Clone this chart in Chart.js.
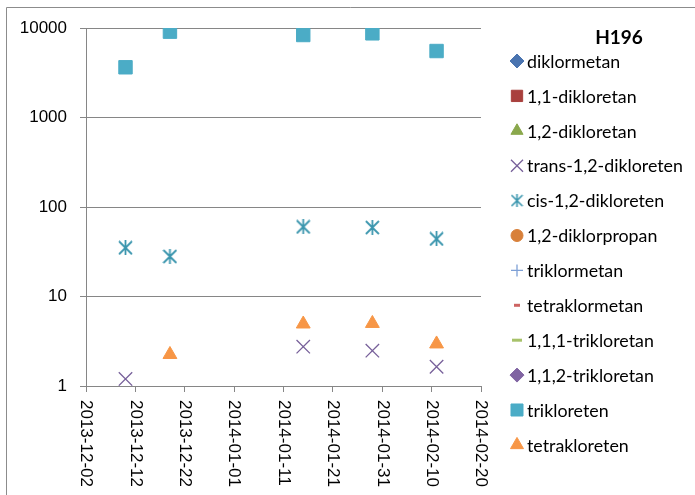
<!DOCTYPE html>
<html>
<head>
<meta charset="utf-8">
<script src="https://cdn.jsdelivr.net/npm/chart.js@4.4.0/dist/chart.umd.min.js"></script>
<style>
  html, body { margin: 0; padding: 0; background: #fff; }
  #wrap { position: relative; width: 695px; height: 495px; }
</style>
</head>
<body>
<div id="wrap"><canvas id="chart" width="695" height="495"></canvas></div>
<script>
// Sample dates for well H196
const startDate = '2013-12-02';
const dates = ['2013-12-10', '2013-12-19', '2014-01-15', '2014-01-29', '2014-02-11'];
const xTickLabels = ['2013-12-02', '2013-12-12', '2013-12-22', '2014-01-01', '2014-01-11',
                     '2014-01-21', '2014-01-31', '2014-02-10', '2014-02-20'];
const yTicks = [1, 10, 100, 1000, 10000];

// Concentrations per compound (null = not detected)
const diklormetan = [null, null, null, null, null];
const dikloretan11 = [null, null, null, null, null];
const dikloretan12 = [null, null, null, null, null];
const transDikloreten = [1.2, null, 2.75, 2.48, 1.64];
const cisDikloreten = [35, 28, 60, 59, 44];
const diklorpropan = [null, null, null, null, null];
const triklormetan = [null, null, null, null, null];
const tetraklormetan = [null, null, null, null, null];
const trikloretan111 = [null, null, null, null, null];
const trikloretan112 = [null, null, null, null, null];
const trikloreten = [3640, 9100, 8350, 8720, 5530];
const tetrakloreten = [null, 2.25, 4.93, 5.0, 2.95];

const labels = ['diklormetan', '1,1-dikloretan', '1,2-dikloretan', 'trans-1,2-dikloreten',
                'cis-1,2-dikloreten', '1,2-diklorpropan', 'triklormetan', 'tetraklormetan',
                '1,1,1-trikloretan', '1,1,2-trikloretan', 'trikloreten', 'tetrakloreten'];
const series = [diklormetan, dikloretan11, dikloretan12, transDikloreten, cisDikloreten,
                diklorpropan, triklormetan, tetraklormetan, trikloretan111, trikloretan112,
                trikloreten, tetrakloreten];

function dayNum(s) {
    return Math.round((Date.parse(s) - Date.parse(startDate)) / 86400000);
}

// asterisk marker (vertical bar + X) like the spreadsheet one
function makeStar(size, color, lw) {
    const c = document.createElement('canvas');
    c.width = size; c.height = size;
    const g = c.getContext('2d');
    g.strokeStyle = color;
    g.lineWidth = lw;
    g.beginPath();
    g.moveTo(size / 2, 0); g.lineTo(size / 2, size);
    g.moveTo(1, 1); g.lineTo(size - 1, size - 1);
    g.moveTo(size - 1, 1); g.lineTo(1, size - 1);
    g.stroke();
    return c;
}

// marker look per compound: style, colour, radius in plot and in legend, line width
const markers = [
    { style: 'rectRot', color: '#4A74B0', r: 8, lr: 7, bw: 1 },
    { style: 'rect', color: '#A9403D', r: 9, lr: 8, bw: 1 },
    { style: 'triangle', color: '#8AA84C', r: 8, lr: 7, bw: 1 },
    { style: 'crossRot', color: '#77609A', r: 9.5, lr: 8.5, bw: 1.3 },
    { style: makeStar(15, '#3B96AE', 1.8), legendStyle: makeStar(13, '#3B96AE', 1.6), color: '#3B96AE', r: 7, lr: 6, bw: 1 },
    { style: 'circle', color: '#D8803A', r: 7, lr: 6, bw: 1 },
    { style: 'cross', color: '#7EA0D6', r: 7, lr: 6, bw: 1.3 },
    { style: 'line', color: '#CD6462', r: 3, lr: 3, bw: 3 },
    { style: 'line', color: '#A7C26A', r: 5, lr: 5, bw: 3 },
    { style: 'rectRot', color: '#8064A2', r: 8, lr: 7, bw: 1 },
    { style: 'rect', color: '#4BACC6', r: 9.5, lr: 8.5, bw: 1 },
    { style: 'triangle', color: '#F79646', r: 8, lr: 7.5, bw: 1 }
];

const datasets = series.map((vals, i) => ({
    label: labels[i],
    data: vals.map((v, j) => ({ x: dayNum(dates[j]), y: v })).filter(p => p.y !== null),
    pointStyle: markers[i].style,
    pointRadius: markers[i].r,
    backgroundColor: markers[i].color,
    borderColor: markers[i].color,
    borderWidth: markers[i].bw,
    showLine: false
}));

const gridColor = '#868686';

// outer frame of the chart object (only top and left edges are visible)
const framePlugin = {
    id: 'frame',
    beforeDraw(chart) {
        const ctx = chart.ctx;
        ctx.save();
        ctx.strokeStyle = '#8C8C8C';
        ctx.lineWidth = 1;
        ctx.beginPath();
        ctx.moveTo(6.5, 495);
        ctx.lineTo(6.5, 7.5);
        ctx.lineTo(695, 7.5);
        ctx.stroke();
        ctx.restore();
    }
};

// date labels rotated to read downward
const xLabelPlugin = {
    id: 'xLabels',
    afterDraw(chart) {
        const scale = chart.scales.x;
        const ctx = chart.ctx;
        ctx.save();
        ctx.font = '17px "Liberation Sans", Arial, sans-serif';
        ctx.fillStyle = '#000';
        ctx.textAlign = 'left';
        ctx.textBaseline = 'middle';
        xTickLabels.forEach(label => {
            const x = scale.getPixelForValue(dayNum(label));
            ctx.save();
            ctx.translate(x, chart.chartArea.bottom + 14);
            ctx.rotate(Math.PI / 2);
            ctx.fillText(label, 0, 0);
            ctx.restore();
        });
        ctx.restore();
    }
};

// legend on the right with the well name as title
const legendPlugin = {
    id: 'sideLegend',
    afterDraw(chart) {
        const ctx = chart.ctx;
        ctx.save();
        ctx.fillStyle = '#000';
        ctx.font = 'bold 19px Lato, sans-serif';
        ctx.textAlign = 'center';
        ctx.textBaseline = 'middle';
        ctx.fillText('H196', 619, 38);

        // size the legend font to the reference text width
        ctx.font = '16px Lato, sans-serif';
        const w = ctx.measureText('trans-1,2-dikloreten').width;
        const size = 16 * 156 / w;
        ctx.font = size.toFixed(2) + 'px Lato, sans-serif';
        ctx.textAlign = 'left';

        chart.data.datasets.forEach((ds, i) => {
            const m = markers[i];
            const y = 61 + i * 34.9;
            ctx.fillStyle = m.color;
            ctx.strokeStyle = m.color;
            ctx.lineWidth = m.bw;
            Chart.helpers.drawPoint(ctx, {
                pointStyle: m.legendStyle || m.style,
                radius: m.lr,
                rotation: 0,
                borderWidth: m.bw
            }, 517, y);
            ctx.fillStyle = '#000';
            ctx.fillText(ds.label, 527, y + 1);
        });
        ctx.restore();
    }
};

const ctx = document.getElementById('chart').getContext('2d');
const chart = new Chart(ctx, {
    type: 'scatter',
    data: { datasets: datasets },
    options: {
        responsive: false,
        animation: false,
        layout: { padding: { top: 28, right: 214, left: 0, bottom: 0 } },
        plugins: {
            legend: { display: false },
            tooltip: { enabled: false }
        },
        scales: {
            x: {
                type: 'linear',
                min: dayNum(xTickLabels[0]),
                max: dayNum(xTickLabels[xTickLabels.length - 1]),
                afterBuildTicks: s => {
                    s.ticks = xTickLabels.map(l => ({ value: dayNum(l) }));
                },
                afterFit: s => { s.height = 109; },
                ticks: { display: false },
                grid: { drawOnChartArea: false, drawTicks: true, tickLength: 6, color: gridColor },
                border: { color: gridColor }
            },
            y: {
                type: 'logarithmic',
                min: yTicks[0],
                max: yTicks[yTicks.length - 1],
                afterBuildTicks: s => {
                    s.ticks = yTicks.map(v => ({ value: v }));
                },
                afterFit: s => { s.width = 86; },
                ticks: {
                    font: { family: '"Liberation Sans", Arial, sans-serif', size: 17 },
                    color: '#000',
                    padding: 13,
                    callback: v => String(v)
                },
                grid: { color: gridColor, tickLength: 6 },
                border: { color: gridColor }
            }
        }
    },
    plugins: [framePlugin, xLabelPlugin, legendPlugin]
});
</script>
</body>
</html>
